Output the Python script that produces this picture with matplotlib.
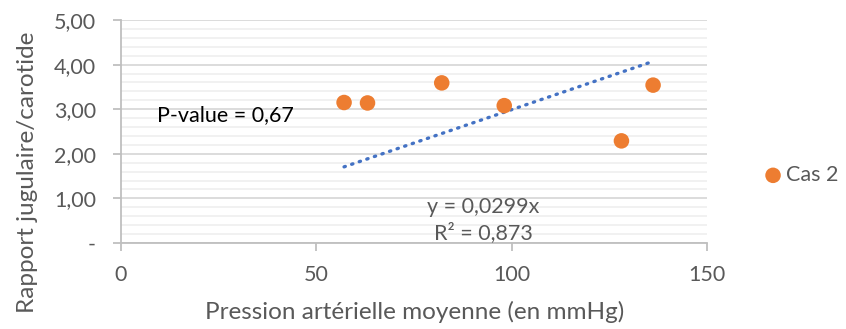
import matplotlib.pyplot as plt
import numpy as np
from matplotlib.ticker import MultipleLocator, FuncFormatter

plt.rcParams['font.family'] = ['Lato', 'DejaVu Sans']

# data
pam = [57.1, 63.1, 82.1, 98.1, 128.1, 136.2]
rapport = [3.15, 3.14, 3.59, 3.08, 2.29, 3.54]
slope = 0.0299
x_ticks = [0, 50, 100, 150]

grey = '#595959'


def fmt_y(v, pos):
    if abs(v) < 1e-9:
        return '-'
    return f"{v:.2f}".replace('.', ',')


W, H = 846, 329
fig = plt.figure(figsize=(W / 100, H / 100), dpi=100)
ax = fig.add_axes([121 / W, 1 - 243 / H, (707 - 121) / W, (243 - 20) / H])

ax.set_xlim(0, 150)
ax.set_ylim(0, 5)
ax.yaxis.set_major_locator(MultipleLocator(1))
ax.yaxis.set_minor_locator(MultipleLocator(0.2))
ax.set_xticks(x_ticks)
ax.yaxis.set_major_formatter(FuncFormatter(fmt_y))

ax.grid(axis='y', which='major', color='#d9d9d9', lw=1.3, zorder=0)
ax.grid(axis='y', which='minor', color='#f0f0f0', lw=1.3, zorder=0)
ax.set_axisbelow(True)

for s in ['top', 'right']:
    ax.spines[s].set_visible(False)
for s in ['left', 'bottom']:
    ax.spines[s].set_color('#bfbfbf')
    ax.spines[s].set_linewidth(1.3)

ax.tick_params(axis='both', which='major', colors='#bfbfbf', labelcolor=grey,
               labelsize=15.5, length=6, width=1.3)
ax.tick_params(axis='y', which='minor', length=0)
ax.tick_params(axis='x', pad=10)
ax.tick_params(axis='y', pad=12)

ax.scatter(pam, rapport, s=125, color='#ed7d31', zorder=3, label='Cas 2',
           edgecolors='none')

xt = np.array([min(pam), max(pam)])
ax.plot(xt, slope * xt, color='#4472c4', lw=2.4, ls=(0, (0.4, 2.0)),
        dash_capstyle='round', zorder=2)

fig.text(157 / W, 1 - 115 / H, 'P-value = 0,67', fontsize=15.5, color='black',
         ha='left', va='center')
fig.text(483 / W, 1 - 207 / H, 'y = 0,0299x', fontsize=15.5, color=grey,
         ha='center', va='center')
fig.text(483 / W, 1 - 233 / H, 'R² = 0,873', fontsize=15.5, color=grey,
         ha='center', va='center')

fig.text(415 / W, 1 - 312 / H, 'Pression artérielle moyenne (en mmHg)',
         fontsize=17.5, color=grey, ha='center', va='center')
fig.text(28 / W, 1 - 172 / H, 'Rapport jugulaire/carotide', rotation=90,
         fontsize=17.5, color=grey, ha='center', va='center')

ax.legend(loc='center left', bbox_to_anchor=(1.098, 0.305), frameon=False,
          fontsize=15.5, labelcolor=grey, handlelength=0.8, handletextpad=0.2,
          borderaxespad=0, borderpad=0, markerscale=1.0)

fig.savefig('out.png', dpi=100)
